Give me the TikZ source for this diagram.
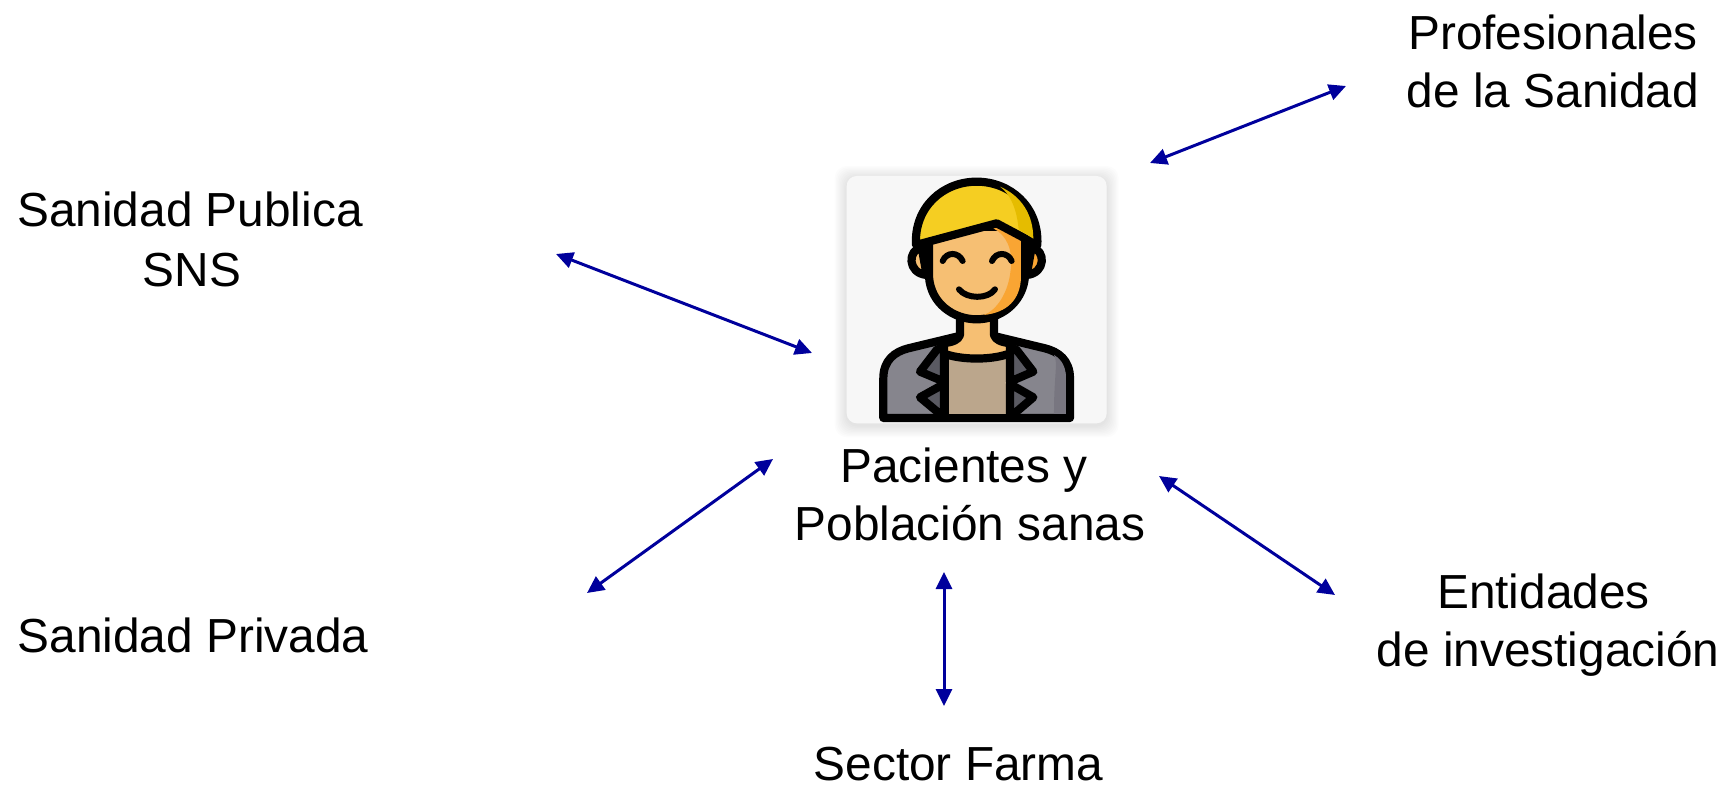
\documentclass[tikz,border=0pt]{standalone}
\usepackage{fontspec}
\setmainfont{Liberation Sans}
\usetikzlibrary{arrows.meta}
\definecolor{arrowblue}{HTML}{00009C}
\definecolor{skin}{RGB}{246,191,115}
\definecolor{skinshade}{RGB}{249,165,51}
\definecolor{hair}{RGB}{245,206,34}
\definecolor{hairshade}{RGB}{229,188,0}
\definecolor{jacket}{RGB}{134,133,141}
\definecolor{jacketshade}{RGB}{120,118,128}
\definecolor{lapel}{RGB}{90,90,98}
\definecolor{shirt}{RGB}{187,166,140}
\definecolor{card}{RGB}{247,247,247}
\tikzset{
  x=1pt,y=1pt,
  lbl/.style={align=center,inner sep=0pt,font=\fontsize{47.8}{58}\selectfont,text=black},
  link/.style={arrowblue,line width=3pt,{Triangle[length=17pt,width=16pt]}-{Triangle[length=17pt,width=16pt]}},
  ol/.style={draw=black,line width=8.2pt,line join=round,line cap=round},
  thin ol/.style={draw=black,line width=6pt,line cap=round},
  soft/.style={fill=black,fill opacity=0.01,rounded corners=12pt}
}
\begin{document}
\begin{tikzpicture}
\useasboundingbox (0,0) rectangle (1726,785);
% px -> pt: y = 785 - py
\node[lbl] (prof) at (1553,724) {Profesionales\\de la Sanidad};
\node[lbl] (pub) at (190,546) {Sanidad Publica\\[2pt]\hspace{4pt}SNS};
\node[lbl] (priv) at (193,150) {Sanidad Privada};
\node[lbl] (pac) at (970,290.5) {Pacientes y\hspace{12pt}\mbox{}\\Población sanas};
\node[lbl] (ent) at (1548,160) {Entidades\hspace{9pt}\mbox{}\\de investigación};
\node[lbl] (farma) at (958.5,21) {Sector Farma};

\coordinate (a1) at (1150,622); \coordinate (b1) at (1346,699);
\coordinate (a2) at (556,531);  \coordinate (b2) at (812,432);
\coordinate (a3) at (587,192);  \coordinate (b3) at (773,326);
\coordinate (a4) at (944,213);  \coordinate (b4) at (944,79);
\coordinate (a5) at (1159,309); \coordinate (b5) at (1335,190);
\draw[link] (a1) -- (b1);
\draw[link] (a2) -- (b2);
\draw[link] (a3) -- (b3);
\draw[link] (a4) -- (b4);
\draw[link] (a5) -- (b5);

% icon: coordinates of the 3x crop at (780,160)
\begin{scope}[shift={(780,625)},x=0.3333pt,y=-0.3333pt]
  \foreach \g in {4,8,...,36}{
    \fill[soft] ({200-\g},{48-\g+6}) rectangle ({980+\g},{790+\g+6});
  }
  \fill[card,rounded corners=10pt] (200,48) rectangle (980,790);
  % body
  \draw[ol,fill=jacket]
    (310,774) -- (310,655) .. controls (310,600) and (345,575) .. (385,565)
    -- (530,530) -- (650,530) -- (795,565) .. controls (835,575) and (870,600) .. (870,655)
    -- (870,774) -- cycle;
  \fill[jacketshade] (822,585) .. controls (835,610) and (822,640) .. (822,762) -- (858,762) -- (858,655) .. controls (858,625) and (848,600) .. (822,585) -- cycle;
  % shirt
  \draw[ol,fill=shirt] (495,570) -- (495,774) -- (689,774) -- (689,570) -- cycle;
  % neck and collar
  \fill[skin] (540,470) -- (640,470) -- (640,530) .. controls (650,545) and (665,550) .. (682,550) -- (682,580) .. controls (630,600) and (550,600) .. (498,580) -- (498,550) .. controls (515,550) and (530,545) .. (540,530) -- cycle;
  \draw[ol,line cap=butt] (498,583) .. controls (550,600) and (630,600) .. (682,583);
  \draw[ol] (540,470) -- (540,525) .. controls (535,540) and (520,546) .. (490,550);
  \draw[ol] (642,470) -- (642,525) .. controls (647,540) and (662,546) .. (690,550);
  % lapels
  \draw[ol,fill=lapel] (492,560) -- (470,570) -- (420,635) -- (492,665) -- cycle;
  \draw[ol,fill=lapel] (492,672) -- (420,712) -- (492,772) -- cycle;
  \draw[ol,fill=lapel] (690,560) -- (710,570) -- (760,635) -- (690,665) -- cycle;
  \draw[ol,fill=lapel] (690,672) -- (760,712) -- (690,772) -- cycle;
  % ears
  \draw[ol,fill=skin] (425,262) .. controls (382,270) and (382,340) .. (440,345) -- cycle;
  \draw[ol,fill=skinshade] (755,262) .. controls (798,270) and (798,340) .. (740,345) -- cycle;
  % face
  \draw[ol,fill=skin] (447,200) -- (447,350) .. controls (452,430) and (520,478) .. (590,478) .. controls (660,478) and (728,430) .. (735,350) -- (735,200) -- cycle;
  \fill[skinshade] (640,205) .. controls (680,225) and (700,270) .. (692,330) .. controls (685,400) and (650,450) .. (612,465) .. controls (680,458) and (722,420) .. (723,350) -- (723,240) -- (660,195) -- cycle;
  % hair
  \draw[ol,fill=hair] (408,255) .. controls (402,140) and (490,65) .. (590,65) .. controls (690,65) and (778,140) .. (772,255) -- (650,190) -- cycle;
  \fill[hairshade] (660,80) .. controls (700,110) and (712,165) .. (716,208) -- (760,236) .. controls (760,165) and (725,108) .. (660,80) -- cycle;
  % eyes and mouth
  \draw[thin ol] (488,303) .. controls (500,275) and (535,275) .. (548,303);
  \draw[thin ol] (636,303) .. controls (648,275) and (683,275) .. (695,303);
  \draw[thin ol] (537,388) .. controls (560,418) and (625,418) .. (645,388);
\end{scope}
\end{tikzpicture}
\end{document}
